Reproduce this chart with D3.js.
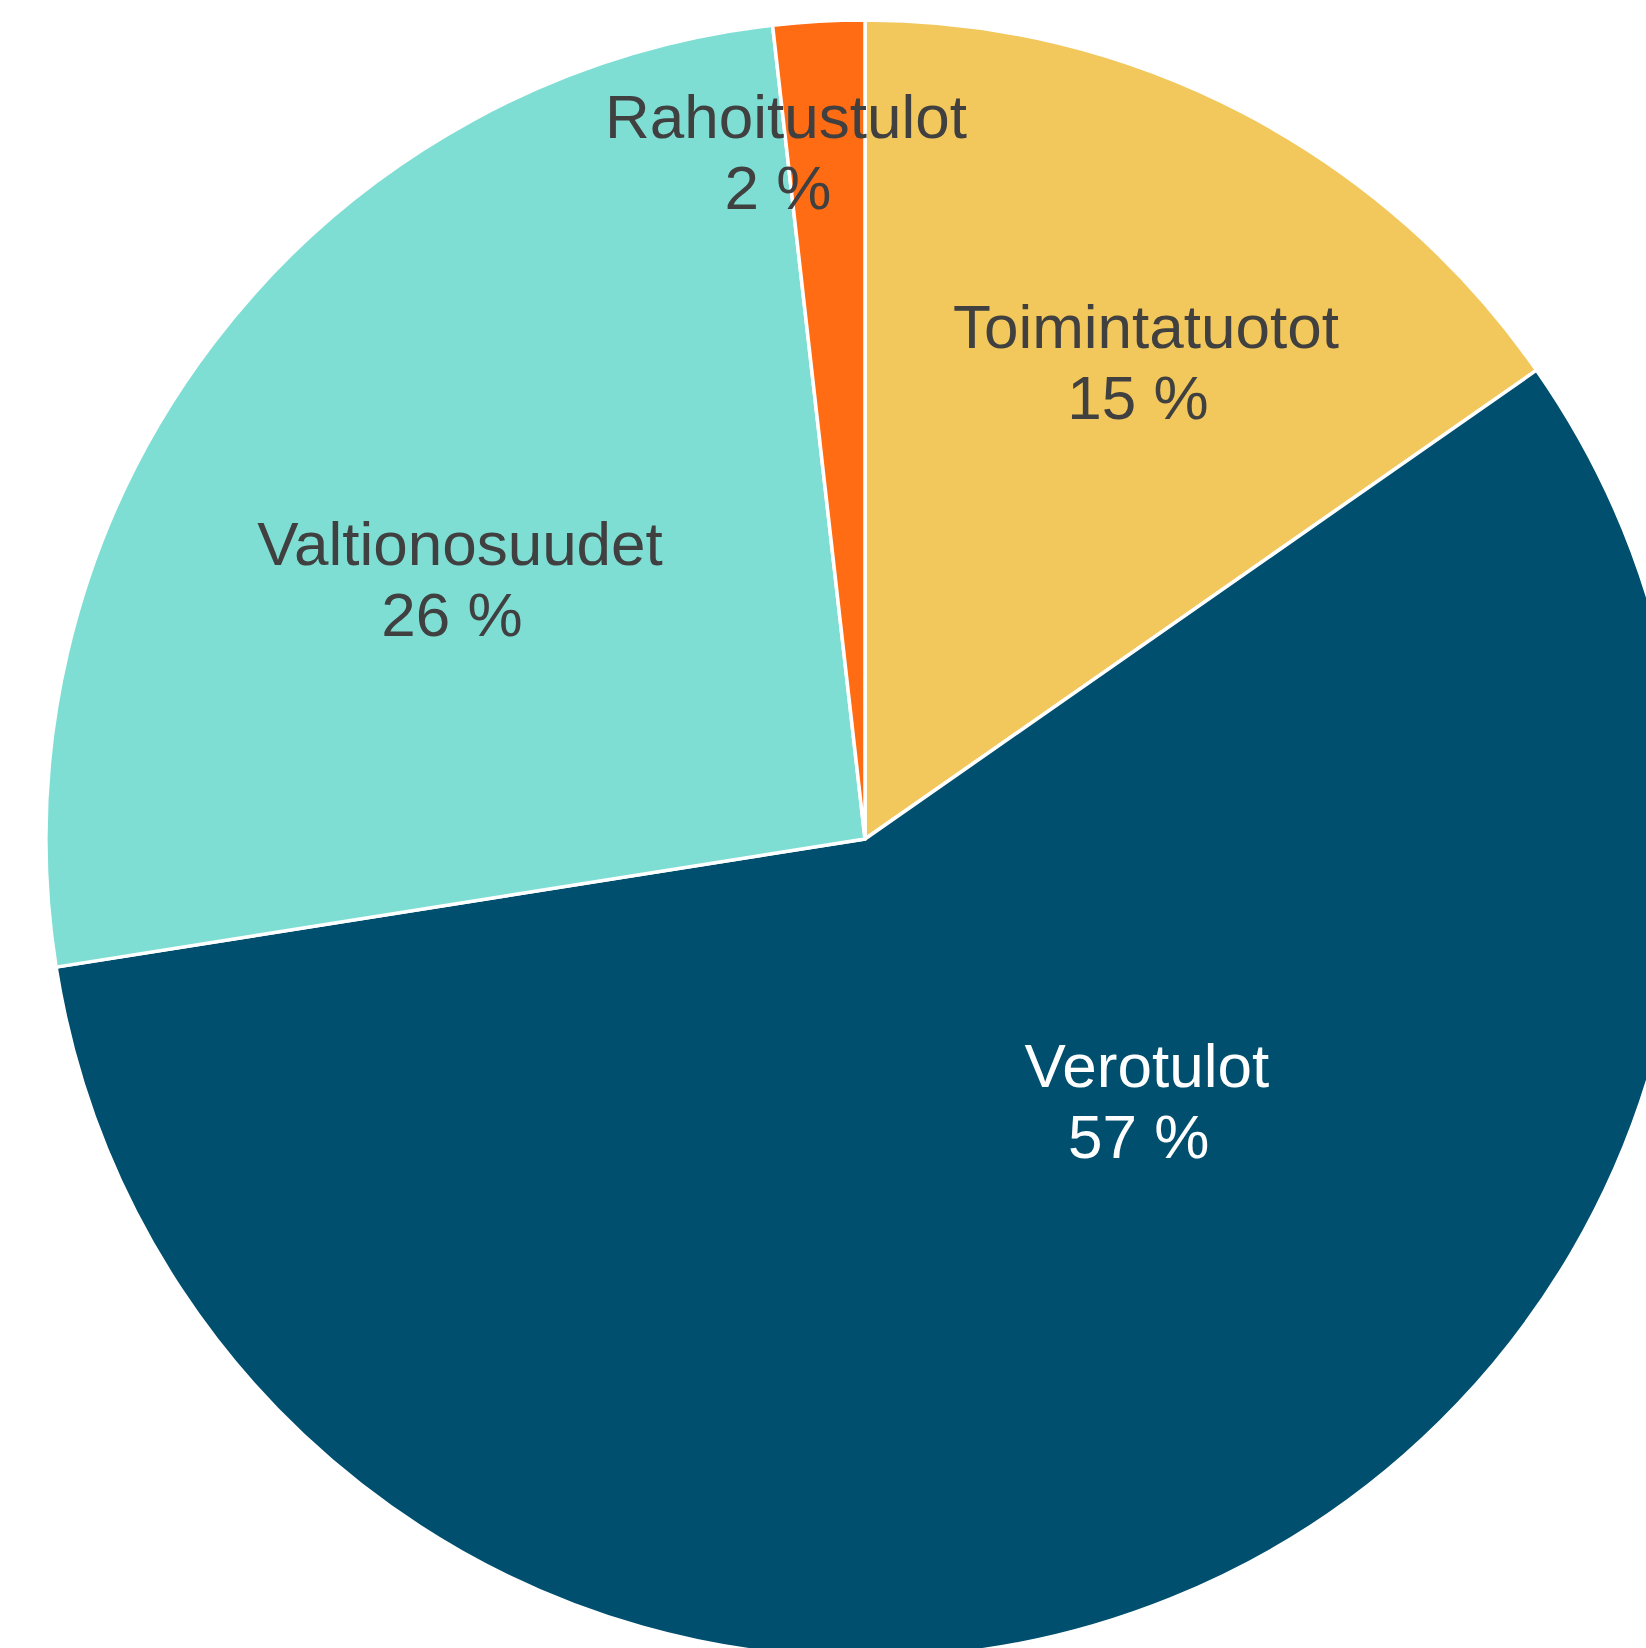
<!DOCTYPE html>
<html>
<head>
<meta charset="utf-8">
<script src="https://cdn.jsdelivr.net/npm/d3@7"></script>
<style>
  html, body { margin: 0; padding: 0; background: #ffffff; overflow: hidden; }
  svg { display: block; }
</style>
</head>
<body>
<svg id="chart" width="1646" height="1648"></svg>
<script>
// ---- data ----
const categories = ["Toimintatuotot", "Verotulot", "Valtionosuudet", "Rahoitustulot"];
const values = [15.3, 57.2, 25.7, 1.8];
const percentLabels = ["15 %", "57 %", "26 %", "2 %"];
const colors = ["#F2C75C", "#004F6E", "#7FDED4", "#FF6C13"];
const textColors = ["#404040", "#ffffff", "#404040", "#404040"];
// label placement, as fractions of the radius relative to pie centre
const labelOffsets = [[0.343, -0.5995], [0.344, 0.303], [-0.4945, -0.3346], [-0.0965, -0.856]];

// ---- layout ----
const width = 1646, height = 1648;
const cx = 865, cy = 839, radius = 819;
const fontSize = 62, lineGap = 71, secondLineShift = -8;

const svg = d3.select("#chart");
const g = svg.append("g").attr("transform", `translate(${cx},${cy})`);

const pie = d3.pie().sort(null).value(d => d)(values);
const arc = d3.arc().innerRadius(0).outerRadius(radius);

g.selectAll("path.slice")
  .data(pie)
  .join("path")
  .attr("class", "slice")
  .attr("d", arc)
  .attr("fill", (d, i) => colors[i])
  .attr("stroke", "#ffffff")
  .attr("stroke-width", 3.5)
  .attr("stroke-linejoin", "round");

const labels = g.selectAll("text.lbl")
  .data(pie)
  .join("text")
  .attr("class", "lbl")
  .attr("text-anchor", "middle")
  .attr("font-family", "'Liberation Sans', Arial, sans-serif")
  .attr("font-size", fontSize)
  .attr("fill", (d, i) => textColors[i])
  .attr("transform", (d, i) => `translate(${labelOffsets[i][0] * radius},${labelOffsets[i][1] * radius})`);

labels.append("tspan").attr("x", 0).attr("y", 0).text((d, i) => categories[i]);
labels.append("tspan").attr("x", secondLineShift).attr("y", lineGap).text((d, i) => percentLabels[i]);
</script>
</body>
</html>
